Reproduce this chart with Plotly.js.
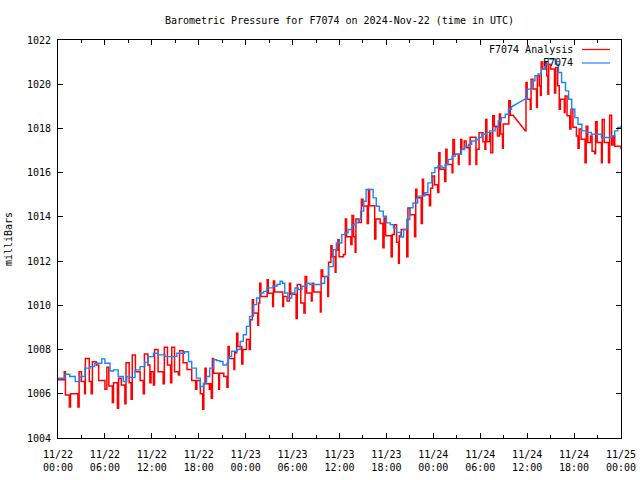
<!DOCTYPE html>
<html>
<head>
<meta charset="utf-8">
<script src="https://cdn.plot.ly/plotly-3.0.1.min.js"></script>
<style>html,body{margin:0;padding:0;background:#fff;}#chart{width:640px;height:480px;}</style>
</head>
<body>
<div id="chart"></div>
<script>
// Hours after 2024-11-22 00:00 UTC
const obsHours = [0.0,0.9,1.5,2.2,2.8,3.45,4.1,4.7,5.6,6.0,6.65,7.1,7.7,8.35,8.8,9.2,9.85,10.5,11.1,11.55,12.2,12.8,13.7,14.5,15.2,15.8,16.2,16.7,17.1,17.7,18.2,18.6,19.0,19.4,19.9,20.3,20.7,21.1,21.6,21.8,22.2,22.9,23.3,23.7,24.1,24.5,25.0,25.4,25.8,26.3,26.7,27.1,27.5,28.0,28.4,28.7,29.0,29.4,29.9,30.3,30.7,31.2,31.8,32.2,32.6,33.3,33.7,34.1,34.6,35.2,35.6,36.3,36.7,37.1,37.6,38.0,38.4,38.7,39.1,39.4,39.9,40.3,40.7,41.1,41.6,42.0,42.5,42.9,43.3,43.8,44.2,44.6,45.0,45.4,46.0,46.5,46.9,47.3,47.8,48.2,48.6,49.1,49.5,49.9,50.4,50.8,51.2,51.6,52.0,52.5,52.9,53.4,53.8,54.2,54.8,55.2,55.9,56.3,56.7,57.2,57.6,58.0,59.7,60.0,60.6,61.0,61.4,61.8,62.3,62.7,63.1,63.6,64.0,64.4,64.9,65.3,65.7,66.1,66.5,67.0,67.6,68.2,68.9,69.5,70.2,70.8,71.2,71.6,72.0];
const obsValues = [1006.7,1006.88,1006.78,1006.55,1006.78,1007.16,1007.23,1007.38,1007.58,1007.38,1007.03,1007.08,1006.78,1006.55,1006.78,1006.73,1007.08,1007.23,1007.43,1007.68,1007.83,1007.76,1007.68,1007.68,1007.83,1007.83,1007.9,1007.46,1007.16,1006.71,1006.33,1006.48,1006.78,1007.16,1007.54,1007.5,1007.46,1007.3,1007.38,1007.69,1007.92,1008.0,1008.37,1008.67,1009.05,1009.5,1010.03,1010.33,1010.56,1010.63,1010.79,1010.79,1010.86,1010.94,1011.09,1011.0,1010.56,1010.33,1010.56,1010.79,1010.71,1010.86,1011.0,1010.94,1010.94,1010.94,1011.0,1011.3,1011.75,1012.52,1012.82,1013.2,1013.28,1013.43,1013.65,1013.73,1013.88,1014.26,1014.71,1015.24,1015.24,1014.86,1014.48,1014.26,1014.03,1013.73,1013.65,1013.5,1013.3,1013.09,1013.43,1013.88,1014.41,1014.63,1014.94,1014.94,1015.09,1015.54,1016.0,1016.22,1016.3,1016.22,1016.37,1016.6,1016.75,1016.83,1016.83,1017.05,1017.2,1017.28,1017.43,1017.5,1017.59,1017.74,1017.82,1017.89,1018.04,1018.34,1018.49,1018.64,1018.87,1018.98,1019.32,1019.78,1020.16,1020.38,1020.46,1020.69,1020.91,1021.14,1021.14,1020.91,1020.53,1020.08,1019.7,1019.32,1018.87,1018.49,1018.19,1017.89,1017.82,1017.74,1017.74,1017.59,1017.59,1017.67,1017.89,1018.04,1018.12];

const anaHours = [0.0,0.8,0.95,1.45,1.6,2.55,2.7,3.0,3.4,3.5,4.0,4.25,4.4,4.9,5.2,6.0,6.25,6.5,6.95,7.1,7.6,7.75,8.1,8.55,8.7,9.1,9.35,9.5,9.9,10.5,10.9,11.05,11.5,11.75,11.9,12.2,12.35,12.8,13.45,13.6,14.0,14.4,14.55,14.9,15.4,15.55,16.0,16.5,17.1,17.6,17.75,18.2,18.5,18.65,18.8,18.95,19.35,19.45,19.6,19.75,19.9,20.55,20.65,21.2,21.6,21.75,21.9,22.5,22.6,22.85,23.0,23.5,23.65,24.1,24.45,24.6,24.85,25.0,25.55,25.65,25.8,25.95,26.75,26.9,27.45,27.55,27.7,28.75,28.85,29.3,29.6,29.75,30.45,30.6,31.05,31.45,31.6,31.8,32.4,32.5,32.7,33.55,33.65,33.85,34.5,34.6,34.9,35.05,35.45,35.55,35.8,35.95,36.5,36.75,36.9,37.45,37.6,37.8,38.0,38.1,38.5,38.8,39.0,39.55,39.7,39.85,40.5,40.65,41.2,41.55,41.7,41.9,42.6,42.75,43.0,43.3,43.55,43.65,43.9,44.6,44.75,45.0,45.6,45.75,45.9,46.45,46.6,46.75,47.5,47.65,47.9,48.15,48.55,48.7,48.85,49.45,49.6,49.75,50.4,50.5,50.7,51.2,51.3,51.5,51.65,51.95,52.2,52.6,52.7,53.45,53.55,53.85,54.35,54.6,54.7,54.85,55.2,55.35,55.6,55.8,56.2,56.45,56.6,56.85,56.95,57.65,57.85,58.2,59.75,59.85,60.0,60.4,60.5,60.75,61.2,61.3,61.55,61.7,61.8,62.0,62.3,62.5,62.65,62.75,63.0,63.5,63.65,63.9,64.1,64.25,64.75,64.85,65.1,65.45,65.6,65.85,66.3,66.5,66.65,66.9,67.4,67.55,67.75,68.1,68.3,68.65,68.75,68.95,69.5,69.6,69.85,70.4,70.55,70.8,71.0,71.2,72.0];
const anaValues = [1006.63,1007.0,1005.95,1005.4,1006.0,1005.4,1007.0,1006.55,1006.0,1007.6,1006.55,1006.0,1007.45,1007.3,1006.6,1006.2,1007.2,1006.35,1005.6,1006.5,1005.35,1006.7,1006.4,1005.55,1007.4,1006.5,1005.75,1007.75,1007.0,1006.6,1006.0,1007.8,1007.3,1006.5,1007.0,1006.4,1008.0,1007.0,1006.45,1008.1,1007.3,1006.5,1008.1,1007.0,1006.85,1007.95,1007.4,1007.1,1006.6,1006.2,1006.6,1006.0,1005.3,1006.45,1007.15,1006.45,1006.2,1006.45,1005.8,1007.6,1006.93,1006.2,1006.93,1006.78,1006.3,1008.14,1007.6,1007.1,1007.85,1008.74,1008.14,1007.35,1008.0,1008.45,1008.0,1009.35,1010.25,1009.65,1009.1,1010.1,1011.0,1010.4,1011.16,1010.55,1009.95,1011.1,1010.6,1009.95,1010.4,1010.2,1011.0,1010.5,1009.4,1010.94,1010.1,1009.65,1011.3,1010.56,1010.2,1011.0,1010.6,1009.7,1011.6,1011.3,1010.4,1011.95,1012.7,1012.2,1011.5,1012.5,1012.97,1012.2,1012.3,1013.9,1013.1,1012.75,1014.06,1013.1,1012.4,1013.9,1013.75,1014.8,1014.49,1013.7,1015.24,1014.5,1013.0,1013.9,1013.7,1012.6,1013.95,1013.15,1012.2,1013.2,1013.65,1012.85,1011.9,1013.15,1013.43,1012.2,1014.4,1014.1,1013.1,1015.25,1014.86,1013.7,1015.7,1015.0,1014.5,1015.3,1015.85,1015.45,1015.1,1016.9,1016.15,1015.6,1017.06,1016.37,1016.0,1017.5,1016.83,1016.37,1016.83,1017.5,1017.06,1017.43,1017.13,1016.37,1017.6,1016.37,1017.06,1017.8,1017.4,1017.06,1018.4,1017.4,1017.8,1016.9,1018.57,1018.1,1017.66,1018.65,1017.75,1017.1,1018.2,1019.25,1018.6,1018.6,1017.9,1020.08,1019.32,1018.87,1020.23,1019.78,1018.95,1020.38,1019.93,1019.5,1021.0,1020.69,1020.99,1020.38,1019.55,1020.9,1020.69,1019.6,1020.76,1019.93,1018.87,1019.32,1018.72,1019.47,1018.57,1017.97,1018.87,1018.05,1017.66,1017.1,1017.97,1017.51,1016.45,1018.1,1017.36,1017.66,1016.97,1016.85,1018.3,1017.36,1016.45,1018.4,1017.36,1016.45,1018.6,1017.25,1017.66,1017.2,1017.06];

const seriesNames = ['F7074 Analysis', 'F7074'];
const seriesColors = ['#ff0000', '#1a84ff'];
const titleText = 'Barometric Pressure for F7074 on 2024-Nov-22 (time in UTC)';
const yTitle = 'milliBars';
const startUTC = Date.UTC(2024, 10, 22, 0, 0, 0);
const endUTC = Date.UTC(2024, 10, 25, 0, 0, 0);

// step ("lines" through held values); gaps longer than maxGap are joined directly
function stepPath(hours, vals, maxGap) {
  const xs = [], ys = [];
  for (let i = 0; i < hours.length; i++) {
    xs.push(startUTC + hours[i] * 3600e3); ys.push(vals[i]);
    if (i < hours.length - 1 && hours[i + 1] - hours[i] <= maxGap) {
      xs.push(startUTC + hours[i + 1] * 3600e3); ys.push(vals[i]);
    }
  }
  return {xs, ys};
}
const ana = stepPath(anaHours, anaValues, 1.2);
const obs = stepPath(obsHours, obsValues, 1.2);

const font = {family: 'DejaVu Sans Mono, Liberation Mono, monospace', size: 10, color: '#000'};

const traces = [
  {x: ana.xs, y: ana.ys, type: 'scatter', mode: 'lines', name: seriesNames[0],
   line: {color: seriesColors[0], width: 1.5}, showlegend: false},
  {x: obs.xs, y: obs.ys, type: 'scatter', mode: 'lines', name: seriesNames[1],
   line: {color: seriesColors[1], width: 1.4}, showlegend: false}
];

const L = 58, R = 621, T = 40, B = 438;
const pw = R - L, ph = B - T;
function px(x) { return (x - L) / pw; }
function py(y) { return (B - y) / ph; }

const layout = {
  width: 640, height: 480,
  margin: {l: L, r: 640 - R, t: T, b: 480 - B, pad: 0},
  paper_bgcolor: '#fff', plot_bgcolor: '#fff',
  font: font,
  title: {text: titleText, font: font, x: 0.5, xref: 'paper', y: 1 - 20 / 480, yref: 'container', yanchor: 'middle'},
  xaxis: {
    type: 'date', range: [startUTC, endUTC],
    tickmode: 'linear', tick0: startUTC, dtick: 6 * 3600e3,
    tickformat: '%m/%d<br>%H:%M',
    ticks: 'inside', ticklen: 5, tickwidth: 1, tickcolor: '#000',
    ticklabelstandoff: 7,
    minor: {dtick: 3 * 3600e3, ticks: 'inside', ticklen: 3, tickwidth: 1, tickcolor: '#000', showgrid: false},
    showline: true, linecolor: '#000', linewidth: 1, mirror: 'allticks',
    showgrid: false, zeroline: false, tickfont: font, fixedrange: true
  },
  yaxis: {
    range: [1004, 1022], tickmode: 'linear', tick0: 1004, dtick: 2,
    ticks: 'inside', ticklen: 5, tickwidth: 1, tickcolor: '#000',
    ticklabelstandoff: 4,
    showline: true, linecolor: '#000', linewidth: 1, mirror: 'allticks',
    showgrid: false, zeroline: false, tickfont: font,
    title: {text: yTitle, font: font, standoff: 12}
  },
  annotations: [
    {text: seriesNames[0], xref: 'paper', yref: 'paper', x: px(575), y: py(49.5), xanchor: 'right', yanchor: 'middle', showarrow: false, font: font},
    {text: seriesNames[1], xref: 'paper', yref: 'paper', x: px(575), y: py(63), xanchor: 'right', yanchor: 'middle', showarrow: false, font: font}
  ],
  shapes: [
    {type: 'line', xref: 'paper', yref: 'paper', x0: px(582), x1: px(610), y0: py(49.5), y1: py(49.5), line: {color: seriesColors[0], width: 1.2}},
    {type: 'line', xref: 'paper', yref: 'paper', x0: px(582), x1: px(610), y0: py(63), y1: py(63), line: {color: seriesColors[1], width: 1.2}}
  ]
};

Plotly.newPlot('chart', traces, layout, {displayModeBar: false, staticPlot: true});
</script>
</body>
</html>
